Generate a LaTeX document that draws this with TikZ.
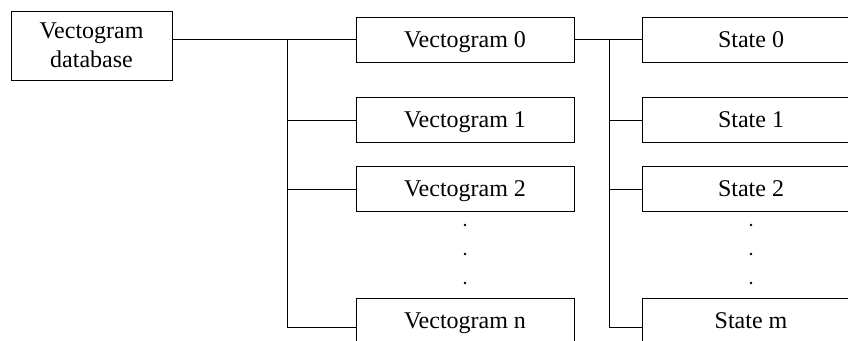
\documentclass[tikz,border=0pt]{standalone}
\usepackage{fontspec}
\setmainfont{Liberation Serif}

\begin{document}
\begin{tikzpicture}[x=1pt, y=-1pt, line width=1pt,
            box/.style={draw, minimum width=218pt, minimum height=45pt, inner sep=0pt, text height=18pt, text depth=3pt, font=\fontsize{24}{29}\selectfont},
            dbbox/.style={draw, minimum width=161pt, minimum height=69pt, inner sep=0pt, align=center, font=\fontsize{24}{29}\selectfont},
            vdot/.style={fill, circle, inner sep=0pt, minimum size=2.6pt}]
            \clip (0,0) rectangle (848,340);
            \node[dbbox] (db) at (91.5,45.5) {Vectogram\\database};
            \node[box] (v0) at (465,39.5) {Vectogram 0};
            \node[box] (v1) at (465,120) {Vectogram 1};
            \node[box] (v2) at (465,189) {Vectogram 2};
            \node[box] (vn) at (465,320.5) {Vectogram n};
            \node[box] (s0) at (751,39.5) {State 0};
            \node[box] (s1) at (751,120) {State 1};
            \node[box] (s2) at (751,189) {State 2};
            \node[box] (sm) at (751,320.5) {State m};
            \foreach \k/\y in {1/225,2/254,3/283} {
                \node[vdot] (vd\k) at (465,\y) {};
                \node[vdot] (sd\k) at (751,\y) {};
            }
            \coordinate (vsplit) at (287,39.5);
            \coordinate (ssplit) at (609,39.5);
            \draw (v0.west) -- (v0.west -| db.east);
            \draw (vsplit) |- ([yshift=-6.5pt]vn.west);
            \draw (vsplit |- v1.west) -- (v1.west);
            \draw (vsplit |- v2.west) -- (v2.west);
            \draw (v0.east) -- (s0.west);
            \draw (ssplit) |- ([yshift=-6.5pt]sm.west);
            \draw (ssplit |- s1.west) -- (s1.west);
            \draw (ssplit |- s2.west) -- (s2.west);
        \end{tikzpicture}
\end{document}
